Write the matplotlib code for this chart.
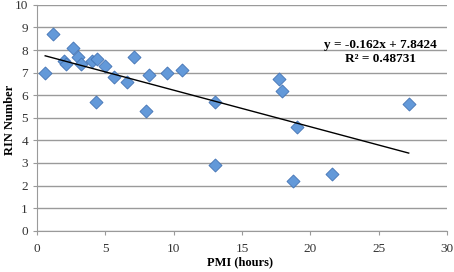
import matplotlib.pyplot as plt
import numpy as np

# PMI (hours) vs RIN number
pmi = [0.6, 1.2, 2.0, 2.1, 2.6, 3.0, 3.2, 4.0, 4.4, 4.3, 5.0, 5.6, 6.6, 7.1,
       8.2, 8.0, 9.5, 10.6, 13.0, 13.0, 17.7, 17.9, 19.0, 27.2, 18.7, 21.6]
rin = [7.0, 8.7, 7.5, 7.4, 8.1, 7.7, 7.4, 7.5, 7.6, 5.7, 7.3, 6.8, 6.6, 7.7,
       6.9, 5.3, 7.0, 7.1, 5.7, 2.9, 6.7, 6.2, 4.6, 5.6, 2.2, 2.5]
slope, intercept = -0.162, 7.8424
r2 = 0.48731

plt.rcParams['font.family'] = ['Liberation Serif', 'DejaVu Serif']

fig = plt.figure(figsize=(4.54, 2.72), dpi=100)
ax = fig.add_axes([0.0815, 0.152, 0.903, 0.83])

ax.scatter(pmi, rin, marker='D', s=44, color='#6399d9', edgecolors='#4373b4',
           linewidths=0.6, zorder=3)

xl = np.array([min(pmi), max(pmi)])
ax.plot(xl, slope * xl + intercept, color='black', lw=1, zorder=4)

ax.set_xlim(0, 30)
ax.set_ylim(0, 10)
ax.set_xticks(range(0, 31, 5))
ax.set_yticks(range(0, 11))
ax.yaxis.grid(True, color='#9a9a9a', lw=1)
ax.set_axisbelow(True)
for s in ['top', 'right']:
    ax.spines[s].set_visible(False)
for s in ['left', 'bottom']:
    ax.spines[s].set_color('#9a9a9a')
ax.tick_params(colors='#9a9a9a', labelcolor='#333333', labelsize=9.5, length=3)
ax.tick_params(axis='x', pad=6)

ax.set_xlabel('PMI (hours)', fontweight='bold', fontsize=9, va='center')
ax.set_ylabel('RIN Number', fontweight='bold', fontsize=9, va='center')
ax.xaxis.set_label_coords(0.495, -0.139)
ax.yaxis.set_label_coords(-0.066, 0.49)

ax.text(25.1, 7.92, f'y = {slope}x + {intercept}\nR² = {r2}', ha='center',
        va='center', fontsize=9.5, fontweight='bold', linespacing=1.15)

fig.savefig('out.png', dpi=100)
